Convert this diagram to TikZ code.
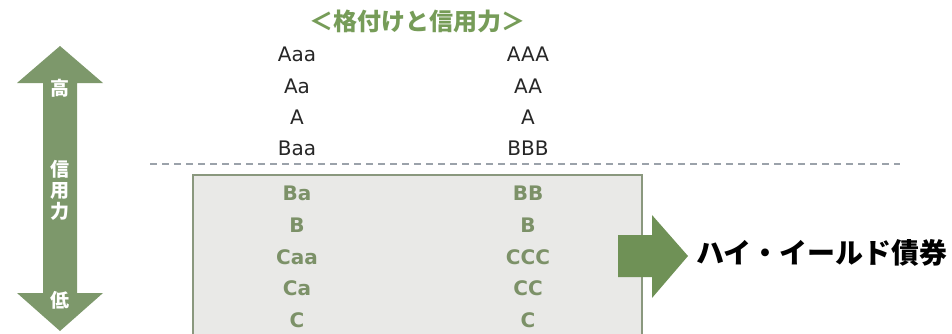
\documentclass[tikz,border=0pt]{standalone}
\usepackage{fontspec}
\setmainfont{DejaVu Sans}
\newfontfamily\jpfont{Noto Sans CJK JP}
\usepackage{tikz}
\usepackage{xcolor}
\usetikzlibrary{positioning, calc}

\definecolor{sage}{RGB}{125,152,107}
\definecolor{leaf}{RGB}{111,145,86}
\definecolor{titlegreen}{RGB}{118,156,88}
\definecolor{junkgreen}{RGB}{124,145,104}
\definecolor{boxgray}{RGB}{233,233,231}
\definecolor{boxedge}{RGB}{138,152,126}
\definecolor{dashgray}{RGB}{155,162,170}

\begin{document}
\begin{tikzpicture}[
  x=1pt, y=-1pt,
  every node/.style={inner sep=0pt},
  grade/.style={font=\fontsize{20}{23}\selectfont, text=black!85},
  junk/.style={font=\fontsize{20}{23}\selectfont\bfseries, text=junkgreen},
  arrowtext/.style={font=\jpfont\fontsize{19}{21}\selectfont\bfseries, text=white, align=center}
]
\clip (0,0) rectangle (952,333);

% Credit strength arrow (high at top, low at bottom)
\fill[sage] (60,46) -- (103,83) -- (77,83) -- (77,293) -- (103,293) -- (60,331)
  -- (17,293) -- (43,293) -- (43,83) -- (17,83) -- cycle;
\node[arrowtext] (high) at (60,88) {高};
\node[arrowtext] (credit) at (60,190) {信\\用\\力};
\node[arrowtext] (low) at (60,300) {低};

% Title
\node[font=\jpfont\fontsize{24}{26}\selectfont\bfseries, text=titlegreen] (title) at (417,21) {＜格付けと信用力＞};

% Speculative grade box
\filldraw[fill=boxgray, draw=boxedge, line width=1.5pt] (193,175) rectangle (642,345);

% Investment / speculative border
\draw[dashgray, line width=2pt, dash pattern=on 7pt off 5pt] (150,164) -- (900,164);

% Investment grade
\foreach \m/\s/\y [count=\i] in {Aaa/AAA/54, Aa/AA/86, A/A/117, Baa/BBB/148} {
  \node[grade] (moody\i) at (297,\y) {\m};
  \node[grade] (sp\i) at (528,\y) {\s};
}
% Speculative grade
\foreach \m/\s/\y [count=\i from 5] in {Ba/BB/193, B/B/225, Caa/CCC/257, Ca/CC/288, C/C/320} {
  \node[junk] (moody\i) at (297,\y) {\m};
  \node[junk] (sp\i) at (528,\y) {\s};
}

% Arrow to high yield
\fill[leaf] (618,235) -- (652,235) -- (652,215) -- (688,256) -- (652,298)
  -- (652,277) -- (618,277) -- cycle;
\node[font=\jpfont\fontsize{28}{30}\selectfont\bfseries, anchor=west] (highyield) at (696,253) {ハイ・イールド債券};

\end{tikzpicture}
\end{document}
